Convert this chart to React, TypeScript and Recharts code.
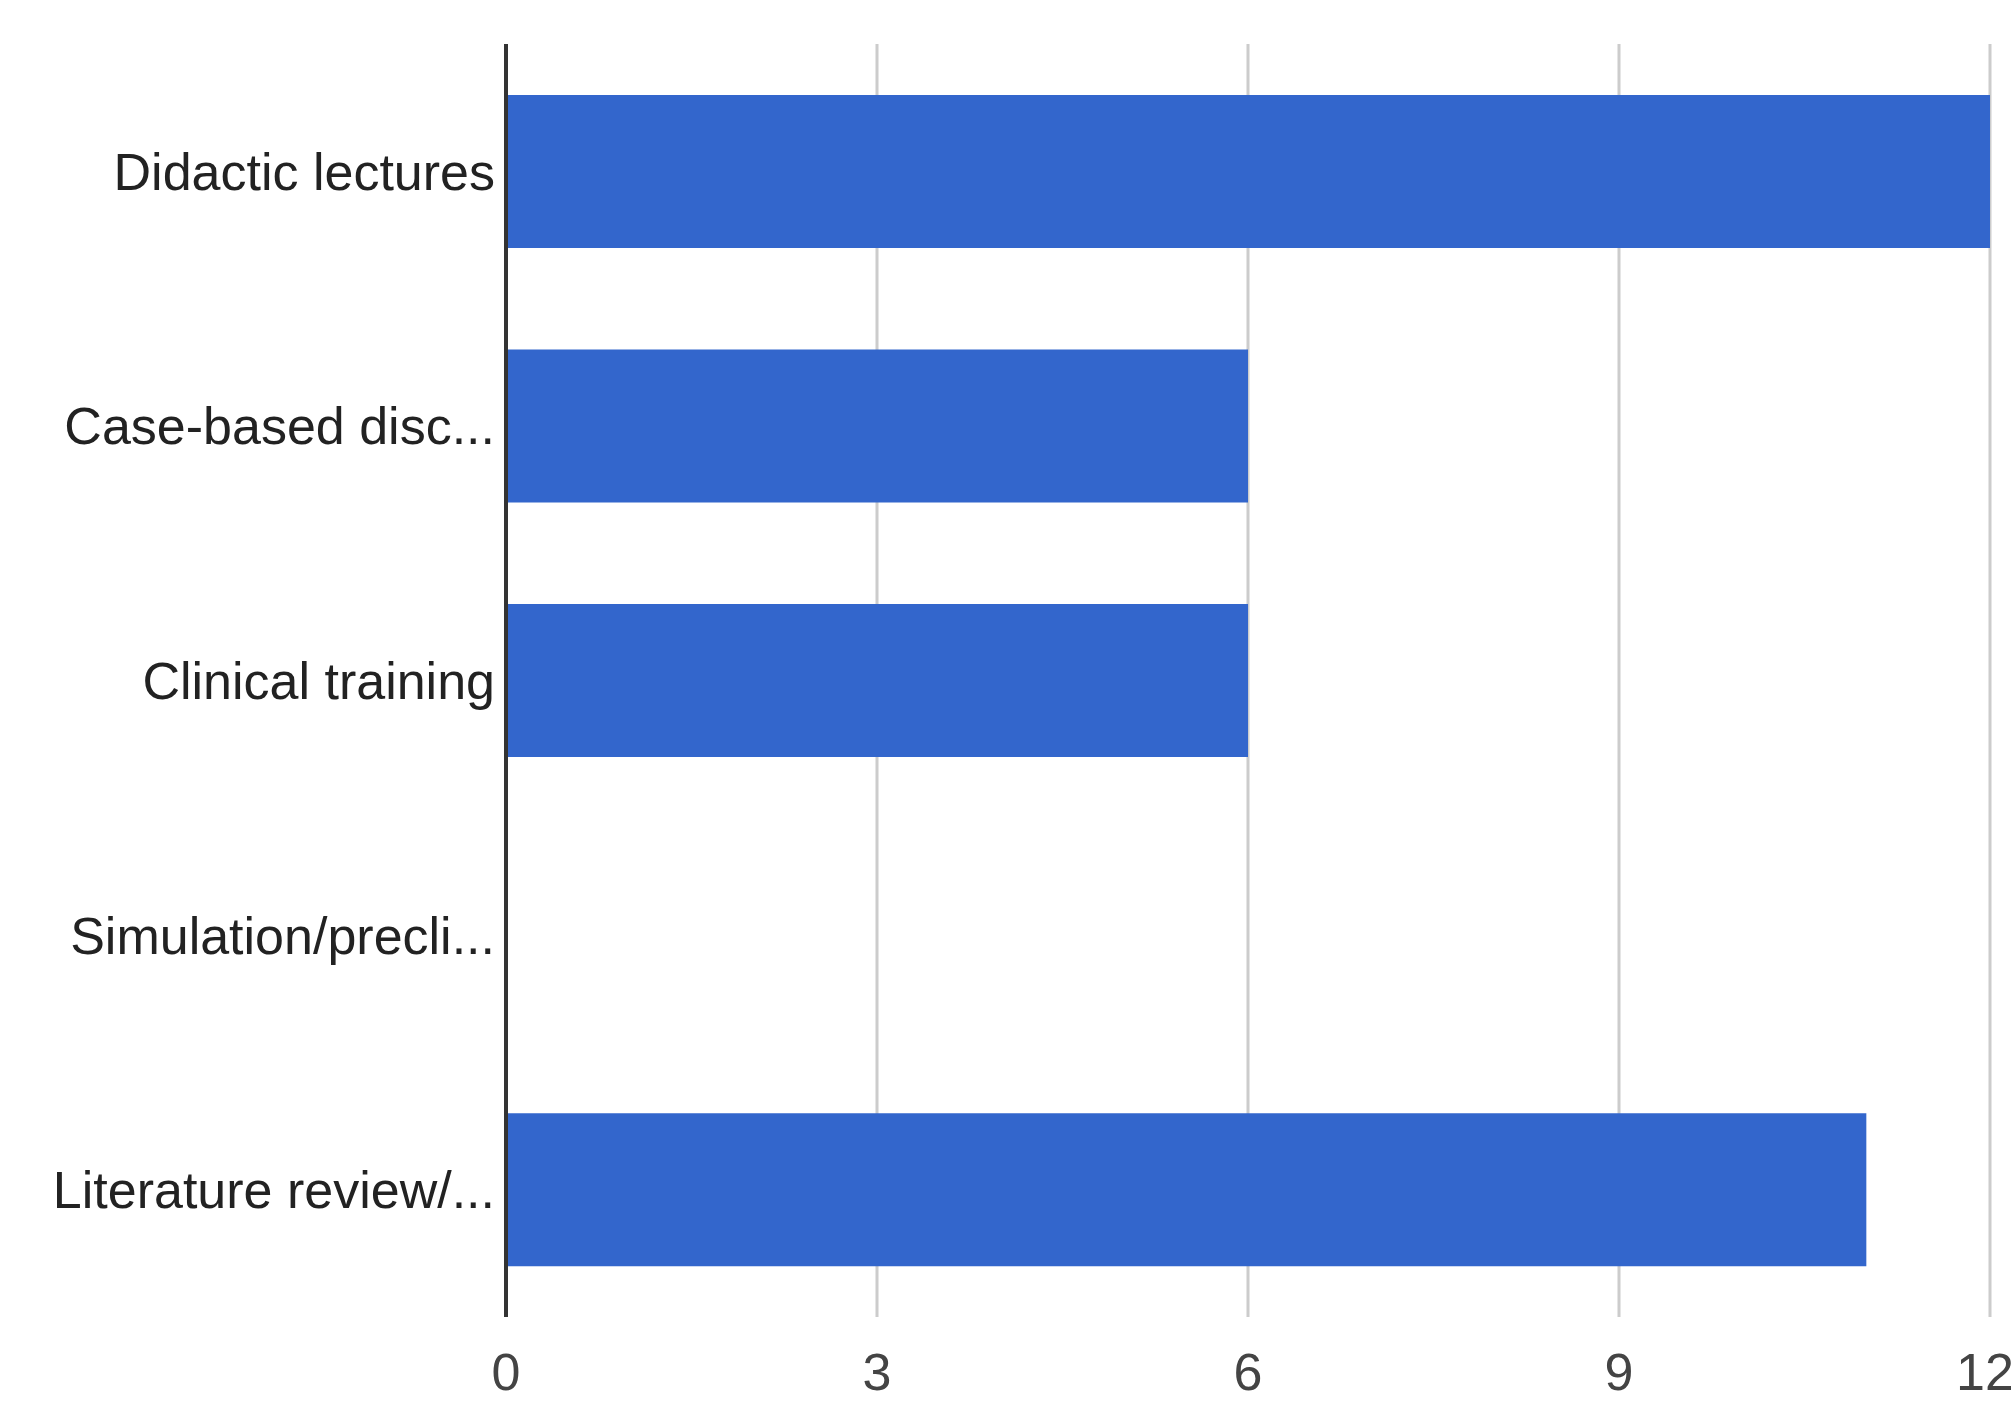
import React from "react";
import { BarChart, Bar, XAxis, YAxis, CartesianGrid } from "recharts";

const categories = [
  "Didactic lectures",
  "Case-based disc...",
  "Clinical training",
  "Simulation/precli...",
  "Literature review/...",
];
const counts = [12, 6, 6, 0, 11];
const xTicks = [0, 3, 6, 9, 12];

const data = categories.map((name, i) => ({ name, count: counts[i] }));

const FONT = "'Liberation Sans', Arial, sans-serif";

export default function App() {
  return (
    <div style={{ position: "absolute", left: 0, top: 0, background: "#fff" }}>
      <BarChart
        width={2011}
        height={1406}
        data={data}
        layout="vertical"
        barCategoryGap="20%"
        margin={{ top: 44, right: 21, bottom: 0, left: 0 }}
      >
        <CartesianGrid horizontal={false} stroke="#cccccc" strokeWidth={3} />
        <XAxis
          type="number"
          domain={[0, 12]}
          ticks={xTicks}
          axisLine={false}
          tickLine={false}
          tickSize={0}
          tickMargin={36}
          height={89}
          tick={{ fill: "#444444", fontSize: 52, fontFamily: FONT }}
        />
        <YAxis
          type="category"
          dataKey="name"
          width={506}
          tickLine={false}
          tickSize={0}
          tickMargin={11}
          axisLine={{ stroke: "#333333", strokeWidth: 4 }}
          tick={{ fill: "#222222", fontSize: 52, fontFamily: FONT }}
        />
        <Bar dataKey="count" fill="#3366cc" isAnimationActive={false} />
      </BarChart>
    </div>
  );
}
